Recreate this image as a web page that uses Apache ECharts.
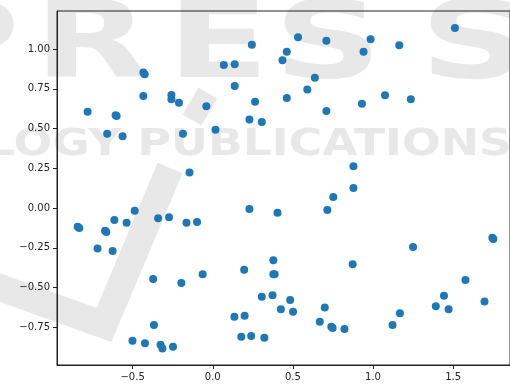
<!DOCTYPE html>
<html>
<head>
<meta charset="utf-8">
<script src="https://cdn.jsdelivr.net/npm/echarts@6/dist/echarts.min.js"></script>
<style>
html,body{margin:0;padding:0;background:#fff;}
#chart{width:510px;height:385px;}
</style>
</head>
<body>
<div id="chart"></div>
<script>
// ---- data ----
const xValues = [
  -0.433,-0.425,-0.433,-0.258,-0.258,-0.211,-0.040,-0.781,-0.606,-0.600,-0.659,-0.563,-0.186,-0.145,
  0.244,0.069,0.137,0.137,0.532,0.462,0.435,0.709,0.637,0.590,0.264,0.462,0.229,0.306,0.017,0.709,
  0.878,0.878,0.985,0.941,1.164,1.511,0.931,1.075,1.236,
  -0.843,-0.833,-0.672,-0.664,-0.614,-0.538,-0.487,-0.341,-0.273,-0.164,-0.098,-0.719,-0.625,
  -0.372,-0.196,-0.063,-0.367,-0.501,-0.423,-0.326,-0.314,-0.248,
  0.229,0.404,0.752,0.715,0.196,0.378,0.378,0.386,0.873,0.306,0.373,0.483,0.425,0.501,0.699,
  0.135,0.199,0.668,0.740,0.748,0.822,0.178,0.240,0.322,
  1.250,1.745,1.751,1.577,1.443,1.392,1.472,1.696,1.168,1.122
];
const yValues = [
  0.852,0.842,0.704,0.711,0.684,0.662,0.640,0.606,0.584,0.578,0.467,0.451,0.467,0.224,
  1.027,0.899,0.904,0.767,1.074,0.983,0.929,1.052,0.820,0.746,0.669,0.692,0.556,0.541,0.493,0.610,
  0.262,0.126,1.061,0.983,1.023,1.132,0.656,0.709,0.684,
  -0.117,-0.125,-0.143,-0.151,-0.075,-0.092,-0.017,-0.065,-0.058,-0.092,-0.088,-0.254,-0.270,
  -0.447,-0.472,-0.417,-0.736,-0.834,-0.851,-0.860,-0.883,-0.872,
  -0.006,-0.029,0.069,-0.013,-0.388,-0.329,-0.417,-0.417,-0.354,-0.558,-0.549,-0.579,-0.637,-0.652,-0.625,
  -0.683,-0.677,-0.715,-0.746,-0.754,-0.761,-0.809,-0.805,-0.815,
  -0.245,-0.187,-0.195,-0.453,-0.551,-0.618,-0.637,-0.587,-0.662,-0.736
];
const xTicks = [-0.5, 0.0, 0.5, 1.0, 1.5];
const yTicks = [-0.75, -0.5, -0.25, 0.0, 0.25, 0.5, 0.75, 1.0];

// ---- chart ----
const points = xValues.map((x, i) => [x, yValues[i]]);
const fmt = (d) => (v) => {
  const s = Math.abs(v).toFixed(d);
  return (v < -1e-9 ? '\u2212' : '') + s;
};
const WM = '#e8e8e8';
const wmLetters = [
  {t:'P', x:-90}, {t:'R', x:34}, {t:'E', x:167}, {t:'S', x:274}, {t:'S', x:420}
];
const graphics = wmLetters.map(l => ({
  type:'text', x:l.x, y:49, scaleX:1.4, z:-10, silent:true,
  style:{text:l.t, x:0, y:0, fill:WM, font:'bold 107px "DejaVu Sans"', align:'left', verticalAlign:'middle'}
}));
graphics.push({
  type:'text', x:-14, y:145, scaleX:1.2, z:-10, silent:true,
  style:{text:'LOGY PUBLICATIONS', x:0, y:0, fill:WM, font:'bold 38px "DejaVu Sans"', align:'left', verticalAlign:'middle'}
});
graphics.push({
  type:'polyline', z:-10, silent:true,
  shape:{points:[[-10,284],[104,325],[170,168]]},
  style:{stroke:WM, lineWidth:27, fill:null, lineJoin:'miter'}
});
graphics.push({
  type:'line', z:-10, silent:true,
  shape:{x1:208,y1:93,x2:192,y2:120},
  style:{stroke:WM, lineWidth:22}
});

const chart = echarts.init(document.getElementById('chart'), null, {renderer:'canvas'});
chart.setOption({
  animation:false,
  backgroundColor:'#fff',
  graphic: graphics,
  grid:{left:57, right:-5, top:11, bottom:20, show:true, borderColor:'#222', borderWidth:1, backgroundColor:'transparent'},
  xAxis:{
    type:'value', min:-0.972, max:1.855,
    axisLine:{show:true, onZero:false, lineStyle:{color:'#222', width:1}},
    splitLine:{show:false},
    axisTick:{show:true, inside:false, length:4, customValues:xTicks, lineStyle:{color:'#222'}},
    axisLabel:{customValues:xTicks, formatter:fmt(1), margin:7, color:'#222', fontSize:10, fontFamily:'DejaVu Sans'}
  },
  yAxis:{
    type:'value', min:-0.987, max:1.239,
    axisLine:{show:true, onZero:false, lineStyle:{color:'#222', width:1}},
    splitLine:{show:false},
    axisTick:{show:true, inside:false, length:4, customValues:yTicks, lineStyle:{color:'#222'}},
    axisLabel:{customValues:yTicks, formatter:fmt(2), margin:7, color:'#222', fontSize:10, fontFamily:'DejaVu Sans'}
  },
  series:[{
    type:'scatter', data:points, symbolSize:8, z:5,
    itemStyle:{color:'#1f77b4', opacity:1}
  }]
});
</script>
</body>
</html>
